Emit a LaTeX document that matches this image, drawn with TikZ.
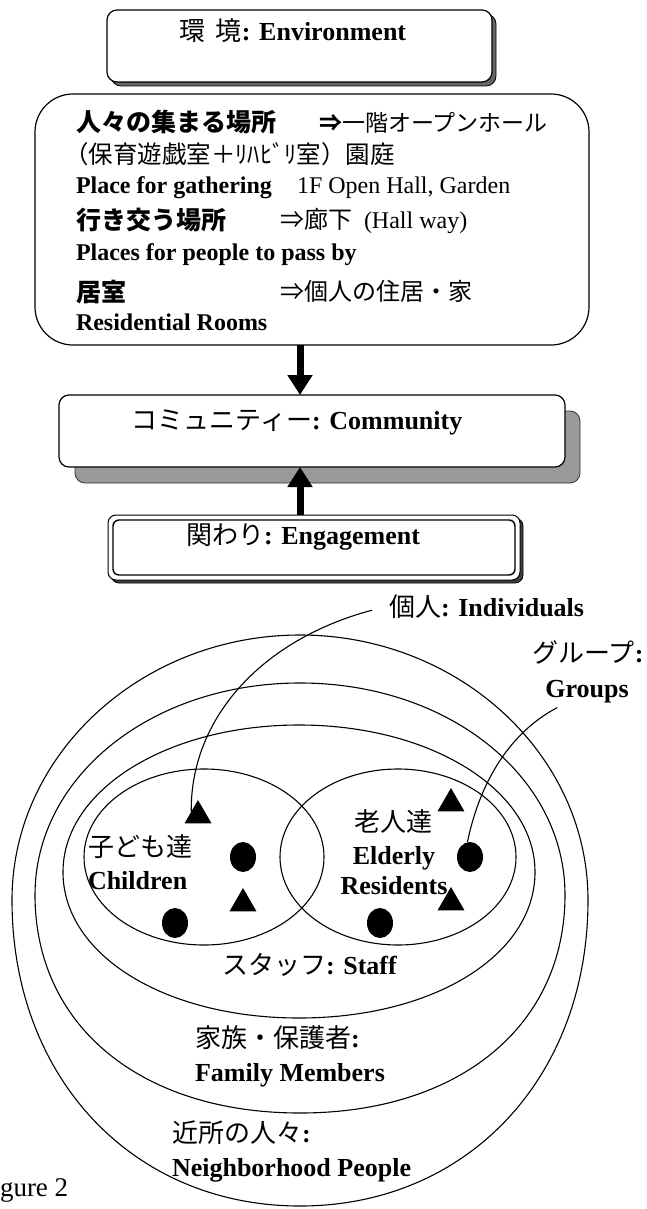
\documentclass[tikz,border=0pt]{standalone}
\usepackage{fontspec}
\setmainfont{Liberation Serif}
\newfontfamily\jp{Noto Sans CJK JP}
\usetikzlibrary{arrows.meta,shapes.geometric}
\begin{document}
\begin{tikzpicture}[x=1pt,y=-1pt,
  every node/.style={inner sep=0pt, outer sep=0pt},
  fsa/.style={font=\fontsize{24}{28}\selectfont},
  fsb/.style={font=\fontsize{26}{30}\selectfont},
  fsj/.style={font=\fontsize{25}{30}\selectfont\jp\bfseries},
  boxline/.style={draw=black, line width=1.2pt, fill=white},
  shade/.style={draw=black, line width=0.8pt, fill=black!60},
  bigarrow/.style={line width=7pt, -{Triangle[width=24pt,length=20pt]}},
  ring/.style={draw=black, line width=1.1pt},
  tri/.style={regular polygon, regular polygon sides=3, fill=black, minimum size=31pt},
  blob/.style={ellipse, fill=black, minimum width=26pt, minimum height=30pt},
  link/.style={draw=black, line width=1.1pt}
]
\fill[white] (0,0) rectangle (647,1209);
\useasboundingbox (0,0) rectangle (647,1209);

% Environment box
\node[shade, rounded corners=10pt, minimum width=385pt, minimum height=72pt] (envsh) at (303.5,50) {};
\node[boxline, rounded corners=10pt, minimum width=385pt, minimum height=72pt] (env) at (299.5,46) {};
\node[fsb, anchor=base] (envt) at (293,41) {{\jp 環\hspace{10pt}境}\textbf{: Environment}};

% big box
\node[boxline, rounded corners=38pt, minimum width=554pt, minimum height=251pt] (big) at (312,219.5) {};
\node[fsj, anchor=base west] (l1a) at (76,132) {人々の集まる場所};
\node[font=\fontsize{23}{28}\selectfont, anchor=base west] (l1b) at (319,131.5) {{\jp\bfseries ⇒}{\jp 一階オープンホール}};
\node[font=\fontsize{24.5}{28}\selectfont, anchor=base west] (l2) at (64,163.5) {\jp （保育遊戯室＋ﾘﾊﾋﾞﾘ室）園庭};
\node[fsa, anchor=base west] (l3a) at (76,193.5) {\textbf{Place for gathering}};
\node[fsa, anchor=base west] (l3b) at (297,193.5) {1F Open Hall, Garden};
\node[fsj, anchor=base west] (l4a) at (76,229) {行き交う場所};
\node[fsa, anchor=base west] (l4b) at (280,228.5) {{\jp ⇒廊下}\hspace{12pt}(Hall way)};
\node[fsa, anchor=base west] (l5) at (76,260.5) {\textbf{Places for people to pass by}};
\node[fsj, anchor=base west] (l6a) at (76,301) {居室};
\node[fsa, anchor=base west] (l6b) at (280,300.5) {\jp ⇒個人の住居・家};
\node[fsa, anchor=base west] (l7) at (76,330.5) {\textbf{Residential Rooms}};

% Community box
\node[draw=black!80, line width=0.8pt, fill=black!40, rounded corners=10pt, minimum width=505pt, minimum height=72pt] (commsh) at (327.5,447) {};
\node[boxline, rounded corners=10pt, minimum width=506pt, minimum height=72pt] (comm) at (312,431) {};
\node[fsb, anchor=base] (commt) at (297,429) {{\jp コミュニティー}\textbf{: Community}};

% Engagement box
\node[draw=black, line width=0.8pt, fill=black!75, rounded corners=8pt, minimum width=412pt, minimum height=65pt] (engsh) at (317,550.5) {};
\node[draw=black, line width=1pt, fill=white, rounded corners=8pt, minimum width=412pt, minimum height=65pt] (eng) at (314,547.5) {};
\node[draw=black, line width=1.4pt, rounded corners=6pt, minimum width=402pt, minimum height=55pt] (engin) at (314,547.5) {};
\node[fsb, anchor=base] (engt) at (303,544) {{\jp 関わり}\textbf{: Engagement}};

% arrows
\draw[bigarrow] ([xshift=-12pt]big.south) -- ([xshift=-12pt]comm.north);
\draw[bigarrow] ([xshift=-14pt]eng.north) -- ([xshift=-12pt]comm.south);

% rings
\draw[ring] (12,900) .. controls (12,754) and (142,635) .. (300,635) .. controls (458,635) and (588,754) .. (588,900) .. controls (588,1078) and (467,1206) .. (300,1206) .. controls (133,1206) and (12,1078) .. cycle;
\draw[ring] (35,895) .. controls (35,776) and (152,683) .. (300,683) .. controls (448,683) and (565,776) .. (565,895) .. controls (565,1026) and (459,1113) .. (300,1113) .. controls (141,1113) and (35,1026) .. cycle;
\draw[ring] (63,872) .. controls (63,790) and (167,725) .. (299,725) .. controls (431,725) and (535,790) .. (535,872) .. controls (535,955) and (434,1018) .. (299,1018) .. controls (165,1018) and (63,955) .. cycle;
\draw[ring] (204,857) ellipse [x radius=120, y radius=88];
\draw[ring] (398,857) ellipse [x radius=118, y radius=88];

% markers
\node[tri] (t1) at (198,815.5) {};
\node[tri] (t2) at (451,803.5) {};
\node[tri] (t3) at (243,903.5) {};
\node[tri] (t4) at (451,902.5) {};
\node[blob] (d1) at (243,857) {};
\node[blob] (d2) at (470,857) {};
\node[blob] (d3) at (175,923) {};
\node[blob] (d4) at (380,923) {};

% labels
\node[fsb, anchor=base west] (ind) at (389,616) {{\jp 個人}\textbf{: Individuals}};
\node[fsb, anchor=base] (grpj) at (588,662) {{\jp グループ}\textbf{:}};
\node[fsb, anchor=base] (grp) at (587,697) {\textbf{Groups}};
\node[fsb, anchor=base west] (chj) at (88,856) {\jp 子ども達};
\node[fsb, anchor=base west] (che) at (88,889) {\textbf{Children}};
\node[fsb, anchor=base] (elj) at (393,831) {\jp 老人達};
\node[fsb, anchor=base] (ele) at (394,864) {\textbf{Elderly}};
\node[fsb, anchor=base] (elr) at (394,894) {\textbf{Residents}};
\node[fsb, anchor=base west] (stf) at (222,974) {{\jp スタッフ}\textbf{: Staff}};
\node[fsb, anchor=base west] (famj) at (195,1047) {{\jp 家族・保護者}\textbf{:}};
\node[fsb, anchor=base west] (fame) at (195,1081) {\textbf{Family Members}};
\node[fsb, anchor=base west] (nbj) at (172,1142) {{\jp 近所の人々}\textbf{:}};
\node[fsb, anchor=base west] (nbe) at (172,1176) {\textbf{Neighborhood People}};
\node[font=\fontsize{27}{30}\selectfont, anchor=base west] (fig) at (0,1196) {gure 2};

% connectors
\draw[link] ([xshift=-17pt,yshift=-4pt]ind.west) .. controls (260,640) and (190,720) .. (t1.side 1);
\draw[link] ([xshift=12pt,yshift=-5pt]grp.south west) .. controls (505,735) and (478,790) .. (d2.100);
\end{tikzpicture}
\end{document}
